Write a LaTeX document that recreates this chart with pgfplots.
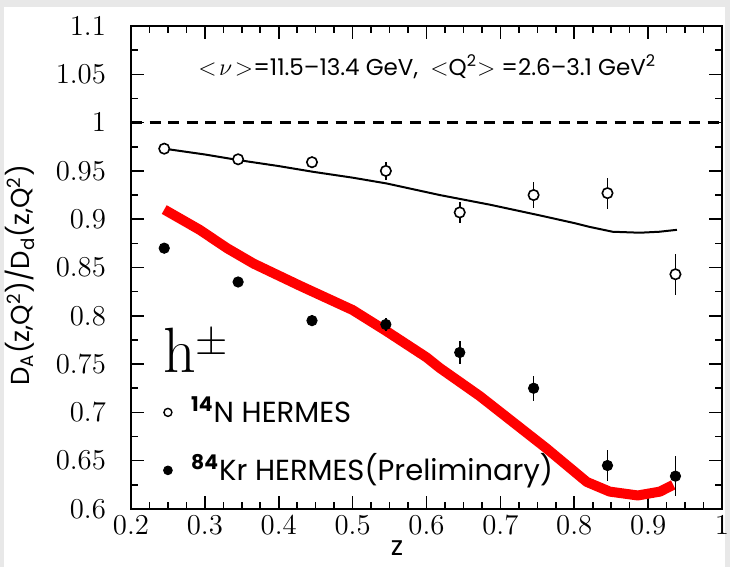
\documentclass[border=0pt]{standalone}
\usepackage{pgfplots}
\pgfplotsset{compat=1.18}
\usepackage{fontspec}
\newfontfamily\gothic{Poppins}

\begin{document}
\begin{tikzpicture}
% page frame: 730 x 567 px at 0.5pt per px, axis box at (0,0)
\useasboundingbox (-65.5pt,-29pt) rectangle (299.5pt,254.5pt);
\fill[gray!18] (-65.5pt,-29pt) rectangle (299.5pt,254.5pt);
\fill[white] (-63.5pt,-29pt) rectangle (297pt,251pt);
\begin{axis}[
    at={(0,0)}, anchor=south west,
    scale only axis,
    width=295.5pt, height=241.5pt,
    xmin=0.2, xmax=1,
    ymin=0.6, ymax=1.1,
    xtick={0.2,0.3,0.4,0.5,0.6,0.7,0.8,0.9,1},
    ytick={0.6,0.65,0.7,0.75,0.8,0.85,0.9,0.95,1,1.05,1.1},
    minor x tick num=3,
    minor y tick num=1,
    tick align=inside,
    major tick length=6.5pt,
    minor tick length=3.5pt,
    tick style={black, line width=0.8pt},
    axis line style={line width=1.1pt},
    tick label style={font=\fontsize{13.5}{15}\selectfont},
    yticklabel style={xshift=-9pt},
    xlabel={z},
    xlabel style={font=\gothic\fontsize{13.5}{15}\selectfont, inner sep=0pt, at={(axis description cs:0.45,-0.082)}, anchor=center},
    ylabel={D\textsubscript{A}(z,Q\textsuperscript{2})/D\textsubscript{d}(z,Q\textsuperscript{2})},
    ylabel style={font=\gothic\fontsize{13}{15}\selectfont, at={(axis description cs:-0.188,0.484)}, anchor=center},
]
% unity reference
\addplot[black, line width=1.4pt, dash pattern=on 5.5pt off 3.8pt] coordinates {(0.2,1) (1,1)};

% model, nitrogen
\addplot[black, line width=1pt, line join=round] coordinates {
    (0.245,0.973) (0.300,0.967) (0.347,0.961) (0.400,0.955) (0.447,0.949)
    (0.500,0.943) (0.546,0.937) (0.600,0.928) (0.618,0.925) (0.686,0.915)
    (0.753,0.904) (0.800,0.896) (0.821,0.892) (0.852,0.887) (0.889,0.886)
    (0.915,0.887) (0.939,0.889)
};
% model, krypton
\addplot[red, line width=5pt, line join=round] coordinates {
    (0.245,0.910) (0.293,0.889) (0.330,0.870) (0.366,0.854) (0.429,0.831)
    (0.500,0.806) (0.546,0.784) (0.600,0.757) (0.618,0.746) (0.672,0.717)
    (0.717,0.690) (0.762,0.663) (0.817,0.628) (0.848,0.618) (0.886,0.614)
    (0.916,0.618) (0.934,0.625)
};

% 14N HERMES
\addplot[only marks, mark=*, mark size=2.6pt, mark options={fill=white, draw=black, line width=0.8pt},
    error bars/.cd, y dir=both, y explicit, error mark=none,
    error bar style={line width=0.8pt, black}]
    coordinates {
    (0.245,0.973) +- (0,0.004)
    (0.345,0.962) +- (0,0.004)
    (0.445,0.959) +- (0,0.005)
    (0.545,0.950) +- (0,0.009)
    (0.645,0.907) +- (0,0.011)
    (0.745,0.925) +- (0,0.013)
    (0.845,0.927) +- (0,0.016)
    (0.937,0.843) +- (0,0.021)
};
% 84Kr HERMES
\addplot[only marks, mark=*, mark size=2.6pt, mark options={fill=black, draw=black},
    error bars/.cd, y dir=both, y explicit, error mark=none,
    error bar style={line width=0.8pt, black}]
    coordinates {
    (0.245,0.870) +- (0,0.004)
    (0.345,0.835) +- (0,0.004)
    (0.445,0.795) +- (0,0.006)
    (0.545,0.791) +- (0,0.007)
    (0.645,0.762) +- (0,0.012)
    (0.745,0.725) +- (0,0.013)
    (0.845,0.645) +- (0,0.016)
    (0.937,0.634) +- (0,0.021)
};

% key markers
\addplot[only marks, mark=*, mark size=2pt, mark options={fill=white, draw=black, line width=0.7pt}]
    coordinates {(0.250,0.700)};
\addplot[only marks, mark=*, mark size=2.2pt, mark options={fill=black}]
    coordinates {(0.250,0.640)};

\node[anchor=base west, inner sep=0, font=\gothic\fontsize{14.5}{16}\selectfont]
    at (axis cs:0.281,0.690) {\textsuperscript{\bfseries 14}N HERMES};
\node[anchor=base west, inner sep=0, font=\gothic\fontsize{14.5}{16}\selectfont]
    at (axis cs:0.281,0.630) {\textsuperscript{\bfseries 84}Kr HERMES(Preliminary)};
\node[anchor=base west, inner sep=0, font=\fontsize{32}{36}\selectfont]
    at (axis cs:0.243,0.741) {h$^{\pm}$};
\node[anchor=center, font=\gothic\fontsize{11.5}{13}\selectfont]
    at (axis cs:0.601,1.0575) {$<\!\nu\!>$=11.5\textendash 13.4 GeV,\ \ $<$Q\textsuperscript{2}$>$ =2.6\textendash 3.1 GeV\textsuperscript{2}};
\end{axis}
\end{tikzpicture}
\end{document}
